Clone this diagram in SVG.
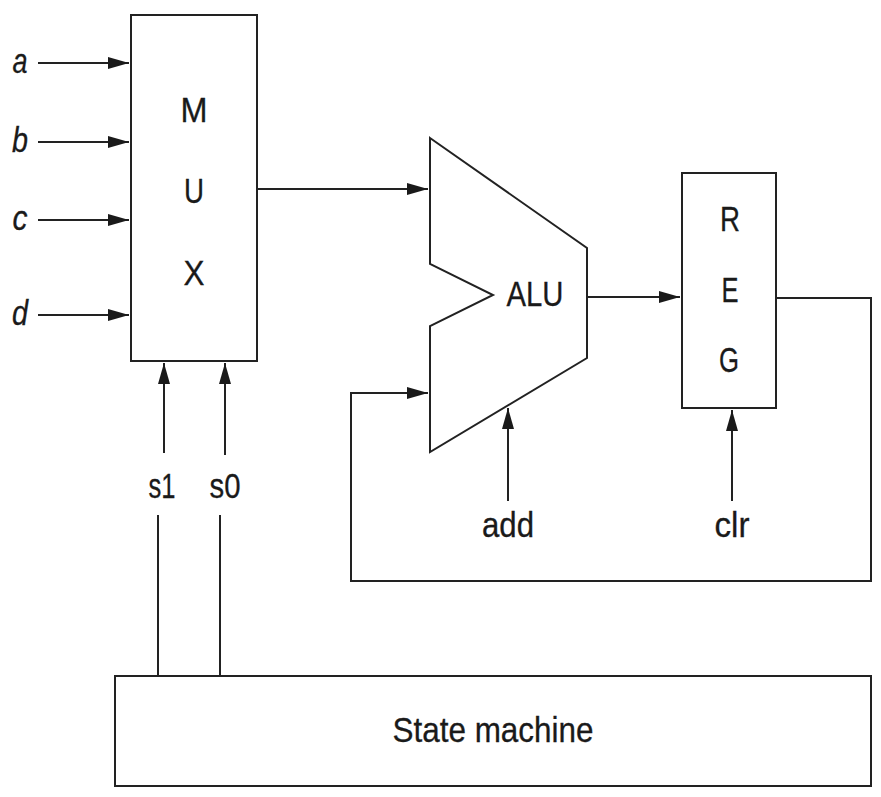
<svg xmlns="http://www.w3.org/2000/svg" width="881" height="797" viewBox="0 0 881 797">
<defs>
<style>
.s{fill:#fff;stroke:#222;stroke-width:2}
.c{fill:none;stroke:#222;stroke-width:2}
text{font-family:"Liberation Sans",Arial,sans-serif;font-size:35px;fill:#1a1a1a;text-anchor:middle;stroke:#1a1a1a;stroke-width:.3}
.i{font-style:italic}
</style>
<marker id="a" markerUnits="userSpaceOnUse" markerWidth="21" markerHeight="12" refX="21" refY="6" orient="auto" viewBox="0 0 21 12"><path d="M0 0L21 6L0 12Z" fill="#1a1a1a"/></marker>
</defs>
<rect width="881" height="797" fill="#fff"/>
<g id="mux"><rect class="s" x="131" y="15" width="126" height="346"/><text x="194" y="122" textLength="27" lengthAdjust="spacingAndGlyphs">M</text><text x="194" y="203" textLength="20" lengthAdjust="spacingAndGlyphs">U</text><text x="194" y="285" textLength="21" lengthAdjust="spacingAndGlyphs">X</text></g>
<g id="alu"><path class="s" d="M430 138L587 248V358L430 452V326L493 295L430 264Z"/><text x="535" y="306" textLength="57" lengthAdjust="spacingAndGlyphs">ALU</text></g>
<g id="reg"><rect class="s" x="682" y="173" width="94" height="235"/><text x="730" y="231" textLength="20" lengthAdjust="spacingAndGlyphs">R</text><text x="730" y="302" textLength="17" lengthAdjust="spacingAndGlyphs">E</text><text x="729" y="372" textLength="20" lengthAdjust="spacingAndGlyphs">G</text></g>
<g id="state-machine"><rect class="s" x="115" y="676" width="756" height="110"/><text x="493" y="742" textLength="201" lengthAdjust="spacingAndGlyphs">State machine</text></g>
<g id="labels">
<text class="i" x="20" y="73" textLength="15" lengthAdjust="spacingAndGlyphs">a</text><text class="i" x="20" y="152" textLength="16" lengthAdjust="spacingAndGlyphs">b</text><text class="i" x="20" y="230" textLength="15" lengthAdjust="spacingAndGlyphs">c</text><text class="i" x="20" y="325" textLength="16" lengthAdjust="spacingAndGlyphs">d</text>
<text x="162" y="498" textLength="27" lengthAdjust="spacingAndGlyphs">s1</text><text x="225" y="498" textLength="31" lengthAdjust="spacingAndGlyphs">s0</text><text x="508" y="537" textLength="52" lengthAdjust="spacingAndGlyphs">add</text><text x="732" y="537" textLength="35" lengthAdjust="spacingAndGlyphs">clr</text>
</g>
<g id="connectors">
<path class="c" marker-end="url(#a)" d="M38 63H129"/>
<path class="c" marker-end="url(#a)" d="M38 142H129"/>
<path class="c" marker-end="url(#a)" d="M38 220H129"/>
<path class="c" marker-end="url(#a)" d="M38 315H129"/>
<path class="c" marker-end="url(#a)" d="M257 189H428"/>
<path class="c" marker-end="url(#a)" d="M587 297H680"/>
<path class="c" marker-end="url(#a)" d="M164 453V363"/>
<path class="c" marker-end="url(#a)" d="M225 455V363"/>
<path class="c" marker-end="url(#a)" d="M508 501V408"/>
<path class="c" marker-end="url(#a)" d="M732 501V410"/>
<path class="c" marker-end="url(#a)" d="M776 298H871V581H351V393H428"/>
<path class="c" d="M158 515V676M220 515V676"/>
</g>
</svg>
